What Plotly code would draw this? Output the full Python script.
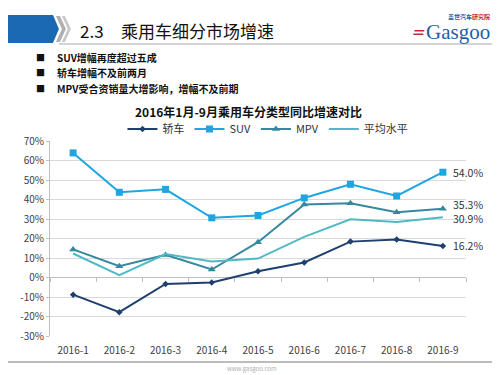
import plotly.graph_objects as go

months = ["2016-1", "2016-2", "2016-3", "2016-4", "2016-5", "2016-6", "2016-7", "2016-8", "2016-9"]
sedan = [-8.8, -17.8, -3.3, -2.6, 3.2, 7.7, 18.4, 19.5, 16.2]
suv = [63.9, 43.7, 45.2, 30.6, 31.8, 40.8, 47.8, 41.8, 54.0]
mpv = [14.4, 5.8, 11.6, 4.1, 18.1, 37.4, 38.1, 33.5, 35.3]
avg = [12.3, 1.2, 12.0, 8.2, 9.7, 20.8, 29.9, 28.5, 30.9]
y_ticks = [-30, -20, -10, 0, 10, 20, 30, 40, 50, 60, 70]

bullets = ["SUV增幅再度超过五成", "轿车增幅不及前两月", "MPV受合资销量大增影响，增幅不及前期"]

FONT = "Noto Sans CJK SC"
# page body has an 8px margin; the figure is sized so the plot lands where the reference has it
OFF = 8
FW, FH = 500 - OFF, 375 - OFF
L, R, T, B = 47, 466, 141, 336
W, H = R - L, B - T


def px(x):
    return (x - L) / W


def py(y):
    return (B - y) / H


series = [
    ("轿车", sedan, "#1f3f6e", "diamond", 5, 0),
    ("SUV", suv, "#1fa5e0", "square", 7, 0),
    ("MPV", mpv, "#35899e", "triangle-up", 7, 4),
    ("平均水平", avg, "#4fb9c5", None, 0, -1),
]

fig = go.Figure()
annotations = []
for name, vals, color, sym, size, ys in series:
    fig.add_trace(go.Scatter(
        x=months, y=vals, name=name,
        mode="lines+markers" if sym else "lines",
        line=dict(color=color, width=2),
        marker=dict(symbol=sym or "circle", size=size, color=color),
        cliponaxis=False,
    ))
    annotations.append(dict(text=f"{vals[-1]:.1f}%", x=months[-1], y=vals[-1], xref="x", yref="y",
                            xanchor="left", yanchor="middle", xshift=8, yshift=ys, showarrow=False,
                            font=dict(family=FONT, size=10.5, color="#333333")))

# invisible trace to activate the tick axis at 0%
fig.add_trace(go.Scatter(x=[None], y=[None], xaxis="x2", showlegend=False, hoverinfo="skip"))

shapes = [
    dict(type="path", xref="paper", yref="paper",
         path=f"M {px(0)} {py(15)} L {px(50)} {py(15)} L {px(56)} {py(29)} L {px(50)} {py(43)} L {px(0)} {py(43)} Z",
         fillcolor="#1b68b3", line=dict(width=0), layer="above"),
    dict(type="path", xref="paper", yref="paper",
         path=f"M {px(53)} {py(16)} L {px(57)} {py(16)} L {px(63)} {py(29)} L {px(57)} {py(42)} L {px(53)} {py(42)} L {px(59)} {py(29)} Z",
         fillcolor="#b0b0b0", line=dict(width=0)),
    dict(type="path", xref="paper", yref="paper",
         path=f"M {px(59)} {py(16)} L {px(62)} {py(16)} L {px(68)} {py(29)} L {px(62)} {py(42)} L {px(59)} {py(42)} L {px(65)} {py(29)} Z",
         fillcolor="#c8c8c8", line=dict(width=0)),
    dict(type="line", xref="paper", yref="paper", x0=px(56), x1=px(500), y0=py(44), y1=py(44),
         line=dict(color="#d4d4d4", width=2)),
    dict(type="line", xref="paper", yref="paper", x0=px(0), x1=px(500), y0=py(362), y1=py(362),
         line=dict(color="#a6a6a6", width=1.5)),
    dict(type="rect", xref="paper", yref="paper", x0=px(414), x1=px(424), y0=py(30), y1=py(31.5),
         fillcolor="#c0282d", line=dict(width=0), layer="above"),
    dict(type="rect", xref="paper", yref="paper", x0=px(413), x1=px(423), y0=py(33.5), y1=py(35),
         fillcolor="#c0282d", line=dict(width=0), layer="above"),
]

header = [
    dict(text="2.3", x=px(75), y=py(30), xanchor="left", yanchor="middle",
         font=dict(family=FONT, size=17, color="#111111")),
    dict(text="乘用车细分市场增速", x=px(116), y=py(30), xanchor="left", yanchor="middle",
         font=dict(family=FONT, size=17, color="#111111")),
    dict(text="Gasgoo", x=px(492), y=py(32), xanchor="right", yanchor="middle",
         font=dict(family="Liberation Serif", size=21, color="#1f5ea8")),
    dict(text="<b>盖世汽车<span style='color:#c0282d'>研究院</span></b>", x=px(492), y=py(16), xanchor="right", yanchor="middle",
         font=dict(family=FONT, size=6, color="#1f5ea8")),
    dict(text="<b>2016年1月-9月乘用车分类型同比增速对比</b>", x=px(247), y=py(111.5), xanchor="center", yanchor="middle",
         font=dict(family=FONT, size=12, color="#111111")),
    dict(text="www.gasgoo.com", x=px(250), y=py(368), xanchor="center", yanchor="middle",
         font=dict(family=FONT, size=6, color="#b0b0b0")),
]
for i, b in enumerate(bullets):
    yy = py(57 + i * 15.5)
    header.append(dict(text="■", x=px(37), y=yy, xanchor="center", yanchor="middle",
                       font=dict(family=FONT, size=9, color="#111111")))
    header.append(dict(text=f"<b>{b}</b>", x=px(52), y=yy, xanchor="left", yanchor="middle",
                       font=dict(family=FONT, size=10, color="#111111")))
for a in header:
    a.update(xref="paper", yref="paper", showarrow=False)
annotations += header

fig.update_layout(
    width=FW, height=FH,
    margin=dict(l=L - OFF, r=FW - (R - OFF), t=T - OFF, b=FH - (B - OFF)),
    paper_bgcolor="white", plot_bgcolor="white",
    font=dict(family=FONT, size=10, color="#404040"),
    showlegend=True,
    legend=dict(orientation="h", x=px(120), xanchor="left", y=py(129), yanchor="middle",
                font=dict(family=FONT, size=11, color="#333333"),
                itemwidth=30, tracegroupgap=0, bgcolor="rgba(0,0,0,0)"),
    xaxis=dict(type="category", categoryorder="array", categoryarray=months, range=[-0.5, 8.5],
               showgrid=False, showline=False, ticks="", zeroline=False,
               tickfont=dict(family=FONT, size=10, color="#404040"), ticklabelstandoff=7),
    xaxis2=dict(overlaying="x", anchor="free", position=py(277.3), range=[-0.5, 8.5],
                tickmode="array", tickvals=[i - 0.5 for i in range(10)], ticks="outside",
                ticklen=4, tickcolor="#bfbfbf", showticklabels=False, showgrid=False,
                showline=False, zeroline=False),
    yaxis=dict(range=[-30, 70], tickmode="array", tickvals=y_ticks,
               ticktext=[f"{v}%" for v in y_ticks], gridcolor="#d9d9d9", gridwidth=1,
               showline=True, linecolor="#bfbfbf", zeroline=True, zerolinecolor="#bfbfbf",
               zerolinewidth=1, ticks="outside", ticklen=3, tickcolor="#bfbfbf",
               tickfont=dict(family=FONT, size=10, color="#404040")),
    shapes=shapes, annotations=annotations,
)

fig.write_html("out.html")
